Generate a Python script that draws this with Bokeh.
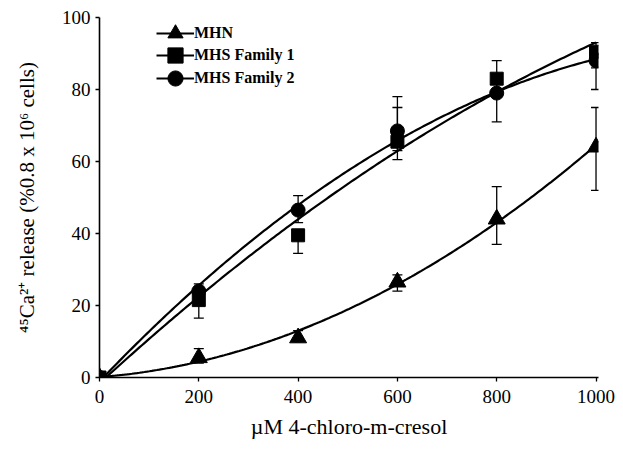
import numpy as np
from bokeh.plotting import figure
from bokeh.models import (ColumnDataSource, Whisker, TeeHead, Legend, LegendItem,
                          Range1d, FixedTicker)
from bokeh.embed import file_html
from bokeh.resources import INLINE

# ---- data ----
conc = [0, 200, 400, 600, 800, 1000]
mhn = [0, 5.5, 11, 26.5, 44, 64]
mhn_up = [0, 8, 13, 28.5, 53, 75]
mhn_lo = [0, 4, 10, 24, 37, 52]
fam1 = [0, 21.5, 39.5, 65.5, 83, 90.5]
fam1_up = [0, 25, 41, 75, 88, 93]
fam1_lo = [0, 16.5, 34.5, 60.5, 80, 86]
fam2 = [0, 24, 46.5, 68.5, 79, 88]
fam2_up = [0, 26, 50.5, 78, 82, 90]
fam2_lo = [0, 22, 43, 63, 71, 80]
x_ticks = [0, 200, 400, 600, 800, 1000]
y_ticks = [0, 20, 40, 60, 80, 100]
names = ["MHN", "MHS Family 1", "MHS Family 2"]
x_title = "µM 4-chloro-m-cresol"
y_title = "⁴⁵Ca²⁺ release (%0.8 x 10⁶ cells)"

FONT = "Liberation Serif"

p = figure(width=615, height=443, output_backend="svg", toolbar_location=None,
           x_range=Range1d(0, 1005), y_range=Range1d(0, 100),
           min_border_left=99, min_border_right=17, min_border_top=17,
           min_border_bottom=66)
p.outline_line_color = None
p.xgrid.visible = False
p.ygrid.visible = False
p.background_fill_color = "white"
p.border_fill_color = "white"

for ax, ticks in ((p.xaxis, x_ticks), (p.yaxis, y_ticks)):
    ax.ticker = FixedTicker(ticks=ticks)
    ax.minor_tick_line_color = None
    ax.major_tick_in = 0
    ax.major_tick_out = 4
    ax.axis_line_width = 1.6
    ax.major_tick_line_width = 1.3
    ax.axis_line_color = "black"
    ax.major_tick_line_color = "black"
    ax.major_label_text_font = FONT
    ax.major_label_text_font_size = "19px"
    ax.major_label_text_color = "black"
    ax.axis_label_text_font = FONT
    ax.axis_label_text_font_style = "normal"
    ax.axis_label_text_color = "black"
p.xaxis.axis_label_text_font_size = "22px"
p.yaxis.axis_label_text_font_size = "21px"
p.xaxis.major_label_standoff = 8
p.yaxis.major_label_standoff = 5
p.xaxis.axis_label = x_title
p.yaxis.axis_label = y_title
p.xaxis.axis_label_standoff = 8
p.yaxis.axis_label_standoff = 20

xs = np.linspace(0, 1000, 200)
series = [(mhn, mhn_up, mhn_lo, "triangle", 17),
          (fam1, fam1_up, fam1_lo, "square", 13),
          (fam2, fam2_up, fam2_lo, "circle", 14)]
legend_y = [325, 303, 280]
for (vals, up, lo, marker, size), name, ly in zip(series, names, legend_y):
    src = ColumnDataSource(dict(x=conc, y=vals, up=up, lo=lo))
    w = Whisker(base="x", upper="up", lower="lo", source=src,
                line_color="black", line_width=1.3,
                upper_head=TeeHead(size=10, line_color="black", line_width=1.3),
                lower_head=TeeHead(size=10, line_color="black", line_width=1.3))
    p.add_layout(w)
    coef = np.polyfit(conc, vals, 2)
    fit = np.polyval(coef, xs)
    r_line = p.line(xs, fit, line_color="black", line_width=2.2)
    r_mark = p.scatter("x", "y", source=src, marker=marker, size=size,
                       fill_color="black", line_color="black")
    leg = Legend(items=[LegendItem(label=name, renderers=[r_line, r_mark])],
                 location=(57, ly), orientation="vertical",
                 background_fill_alpha=0, border_line_alpha=0,
                 glyph_width=38, glyph_height=38, label_height=20, spacing=0,
                 padding=0, margin=0, label_standoff=0,
                 label_text_font=FONT, label_text_font_size="16px",
                 label_text_font_style="bold", label_text_color="black")
    p.add_layout(leg)

open("out.html", "w").write(file_html(p, INLINE))
